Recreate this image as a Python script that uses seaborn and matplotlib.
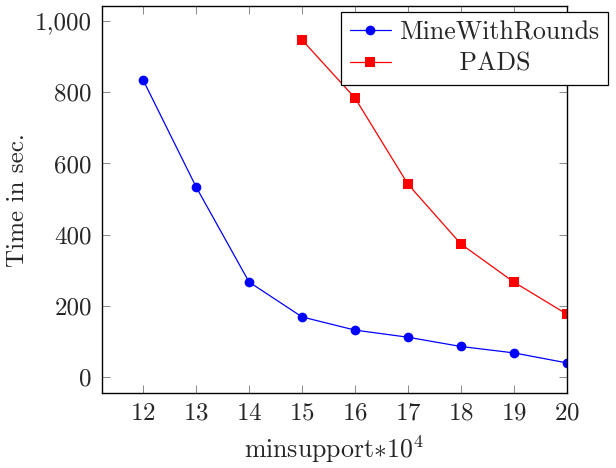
import pandas as pd
import matplotlib.pyplot as plt
import seaborn as sns

# values
minsupport = [12, 13, 14, 15, 16, 17, 18, 19, 20]
mine_with_rounds = [834, 534, 267, 169, 132, 112, 86, 68, 40]
pads_support = [15, 16, 17, 18, 19, 20]
pads = [947, 784, 542, 374, 267, 177]
y_ticks = [0, 200, 400, 600, 800, 1000]
labels = ['MineWithRounds', 'PADS']

df_mine = pd.DataFrame({'minsupport': minsupport, 'time': mine_with_rounds})
df_pads = pd.DataFrame({'minsupport': pads_support, 'time': pads})

sns.set_style('ticks')
plt.rcParams['font.family'] = ['cmr10', 'DejaVu Serif']
plt.rcParams['mathtext.fontset'] = 'cm'
plt.rcParams['axes.formatter.use_mathtext'] = True
FS = 18
LFS = 18.6

fig = plt.figure(figsize=(6.16, 4.68), dpi=100)
ax = fig.add_axes([0.165, 0.160, 0.755, 0.827])

# pad the shorter legend label with spaces so it looks centred (as in pgfplots)
r = fig.canvas.get_renderer()
widths = []
for lab in labels + [' ']:
    t = fig.text(0, 0, lab, fontsize=LFS)
    widths.append(t.get_window_extent(r).width)
    t.remove()
n_sp = int(round((widths[0] - widths[1]) / 2 / widths[2]))
pads_label = ' ' * n_sp + labels[1]

sns.lineplot(data=df_mine, x='minsupport', y='time', ax=ax, color=(0, 0, 1),
             marker='o', markersize=7, markeredgewidth=0, linewidth=0.9,
             label=labels[0])
sns.lineplot(data=df_pads, x='minsupport', y='time', ax=ax, color=(1, 0, 0),
             marker='s', markersize=6.5, markeredgewidth=0, linewidth=0.9,
             label=pads_label)

ax.set_xlim(11.215, 20)
ax.set_ylim(-45, 1042)
ax.set_xticks(minsupport)
ax.set_yticks(y_ticks)
ax.set_yticklabels(['{:,}'.format(v) for v in y_ticks])
ax.tick_params(direction='in', top=True, right=True, length=6, width=0.6,
               color='#777777', labelsize=FS, pad=7)
for s in ax.spines.values():
    s.set_linewidth(1.0)
    s.set_color('black')
    s.set_visible(True)

ax.set_xlabel(r'minsupport$\ast10^4$', fontsize=LFS, labelpad=6)
ax.set_ylabel('Time in sec.', fontsize=FS, labelpad=4)

leg = ax.legend(loc='upper right', bbox_to_anchor=(0.987, 0.975),
                bbox_transform=fig.transFigure, fontsize=LFS, frameon=True,
                fancybox=False, edgecolor='black', framealpha=1,
                borderpad=0.35, handlelength=1.6, handletextpad=0.3,
                labelspacing=0.3, borderaxespad=0)
leg.get_frame().set_linewidth(0.9)

fig.savefig('out.png', dpi=100)
